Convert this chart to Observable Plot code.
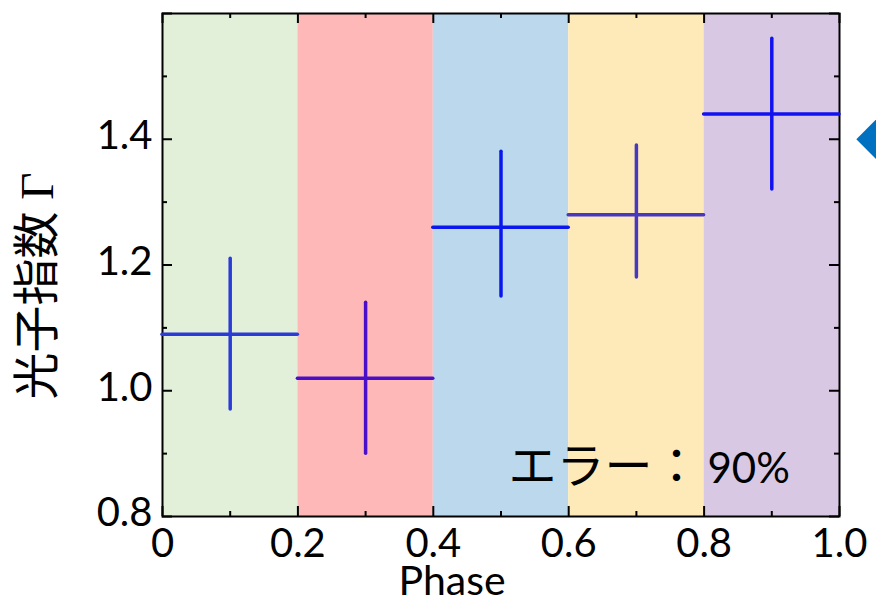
<!DOCTYPE html>
<html>
<head>
<meta charset="utf-8">
<script src="https://cdn.jsdelivr.net/npm/d3@7"></script>
<script src="https://cdn.jsdelivr.net/npm/@observablehq/plot@0.6"></script>
<style>
  html, body { margin: 0; padding: 0; background: #ffffff; }
</style>
</head>
<body>
<div id="chart"></div>
<script>
// ---- data ----
const phaseStart = [0, 0.2, 0.4, 0.6, 0.8];
const phaseEnd   = [0.2, 0.4, 0.6, 0.8, 1.0];
const phaseMid   = [0.1, 0.3, 0.5, 0.7, 0.9];
const gamma      = [1.09, 1.02, 1.26, 1.28, 1.44];
const gammaLow   = [0.97, 0.90, 1.15, 1.18, 1.32];
const gammaHigh  = [1.21, 1.14, 1.38, 1.39, 1.56];
const bandColors = ["#e2f0d9", "#ffb8b8", "#bbd8ec", "#feeab9", "#d8c8e4"];
const barColors  = ["#2b3bd8", "#4a10c8", "#0a18ef", "#4838c0", "#1212f0"];

const xMajor = [0, 0.2, 0.4, 0.6, 0.8, 1.0];
const xMinor = [0.1, 0.3, 0.5, 0.7, 0.9];
const yMajor = [0.8, 1.0, 1.2, 1.4, 1.6];
const yMinor = [0.9, 1.1, 1.3, 1.5];
const yLabelTicks = [0.8, 1.0, 1.2, 1.4];

const yTitle = "光子指数 Γ";
const xTitle = "Phase";
const noteJa = "エラー：";
const noteNum = "90%";
const markerX = [1.056];
const markerY = [1.4];

const idx = d3.range(phaseStart.length);
const W = 876, H = 601;
const mL = 162, mR = 37, mT = 13, mB = 85;
const fw = W - mL - mR, fh = H - mT - mB;
const latin = "Lato, 'Open Sans', sans-serif";

const chart = Plot.plot({
  width: W,
  height: H,
  marginLeft: mL,
  marginRight: mR,
  marginTop: mT,
  marginBottom: mB,
  style: { fontFamily: latin, fontSize: "40px", background: "#ffffff", overflow: "visible" },
  x: { domain: [0, 1], label: null },
  y: { domain: [0.8, 1.6], label: null },
  marks: [
    Plot.rect(idx, {
      x1: i => phaseStart[i], x2: i => phaseEnd[i],
      y1: 0.8, y2: 1.6,
      fill: i => bandColors[i]
    }),
    Plot.frame({ stroke: "#000", strokeWidth: 2 }),
    Plot.ruleX(xMajor, { x: d => d, stroke: "#000", strokeWidth: 2, insetTop: fh - 10 }),
    Plot.ruleX(xMinor, { x: d => d, stroke: "#000", strokeWidth: 2, insetTop: fh - 5 }),
    Plot.ruleX(xMajor, { x: d => d, stroke: "#000", strokeWidth: 2, insetBottom: fh - 10 }),
    Plot.ruleX(xMinor, { x: d => d, stroke: "#000", strokeWidth: 2, insetBottom: fh - 5 }),
    Plot.ruleY(yMajor, { y: d => d, stroke: "#000", strokeWidth: 2, insetRight: fw - 10 }),
    Plot.ruleY(yMinor, { y: d => d, stroke: "#000", strokeWidth: 2, insetRight: fw - 5 }),
    Plot.ruleY(yMajor, { y: d => d, stroke: "#000", strokeWidth: 2, insetLeft: fw - 10 }),
    Plot.ruleY(yMinor, { y: d => d, stroke: "#000", strokeWidth: 2, insetLeft: fw - 5 }),
    Plot.axisX(xMajor, {
      tickSize: 0, tickPadding: 12, label: null,
      tickFormat: d => d === 0 ? "0" : d.toFixed(1),
      fontSize: 40, fill: "#000"
    }),
    Plot.axisY(yLabelTicks, {
      tickSize: 0, tickPadding: 10, label: null, dy: -3,
      tickFormat: d => d.toFixed(1),
      fontSize: 40, fill: "#000"
    }),
    Plot.ruleY(idx, {
      y: i => gamma[i], x1: i => phaseStart[i], x2: i => phaseEnd[i],
      stroke: i => barColors[i], strokeWidth: 3.5, strokeLinecap: "round"
    }),
    Plot.ruleX(idx, {
      x: i => phaseMid[i], y1: i => gammaLow[i], y2: i => gammaHigh[i],
      stroke: i => barColors[i], strokeWidth: 3.5, strokeLinecap: "round"
    }),
    Plot.dot(markerX.map((x, i) => ({ x, y: markerY[i] })), {
      x: "x", y: "y", symbol: "diamond2", r: 19, fill: "#0070c0", stroke: null
    }),
    Plot.text([yTitle], {
      text: d => d, frameAnchor: "left", rotate: -90, textAnchor: "middle",
      dx: -125, dy: 21,
      fontSize: 47, fill: "#000",
      fontFamily: "'Liberation Serif', 'Noto Sans CJK JP', serif"
    }),
    Plot.text([xTitle], {
      text: d => d, frameAnchor: "bottom", lineAnchor: "bottom",
      dx: -49, dy: 78, fontSize: 41, fill: "#000"
    }),
    Plot.text([noteJa], {
      text: d => d, frameAnchor: "bottom-left", textAnchor: "start", lineAnchor: "bottom",
      dx: 346, dy: -34, fontSize: 48, fill: "#000",
      fontFamily: "'Noto Sans CJK JP', sans-serif"
    }),
    Plot.text([noteNum], {
      text: d => d, frameAnchor: "bottom-left", textAnchor: "start", lineAnchor: "bottom",
      dx: 545, dy: -34, fontSize: 42, fill: "#000"
    })
  ]
});

document.getElementById("chart").appendChild(chart);
</script>
</body>
</html>
